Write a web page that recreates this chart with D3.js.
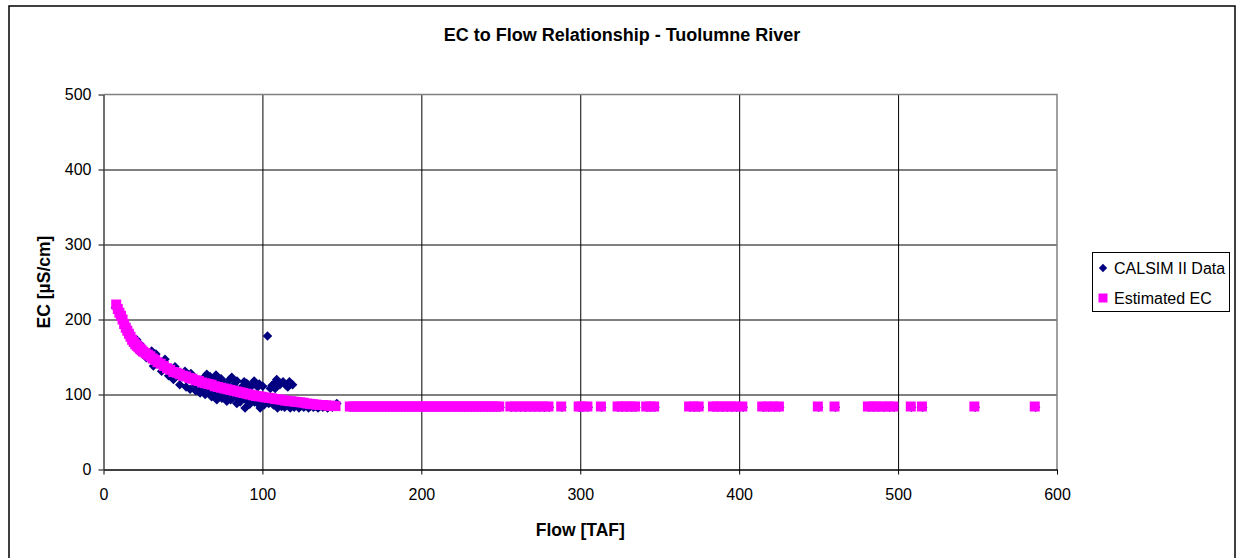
<!DOCTYPE html>
<html><head><meta charset="utf-8">
<script src="https://cdn.jsdelivr.net/npm/d3@7"></script>
<style>
body{margin:0;background:#fff}
svg{display:block}
text{font-family:"Liberation Sans",Arial,sans-serif;fill:#000}
</style>
</head><body>
<svg id="c" width="1238" height="558"></svg>
<script>
const titleText = "EC to Flow Relationship - Tuolumne River";
const xTitle = "Flow [TAF]";
const yTitle = "EC [\u00B5S/cm]";
const seriesNames = ["CALSIM II Data", "Estimated EC"];
const xTicks = [0, 100, 200, 300, 400, 500, 600];
const yTicks = [0, 100, 200, 300, 400, 500];

// CALSIM II Data (flow TAF, EC uS/cm)
const calFlow = [7.5, 9, 10.5, 12, 13.5, 15, 16.5, 18, 19.5, 20.9, 22, 23.5, 25, 27, 29, 30.3, 31.4, 33, 35, 36.6, 38.7, 39, 41, 43, 44, 45, 47, 48, 50, 51.3, 52, 54.5, 55, 57, 58, 60.8, 62, 64, 65, 67, 68, 70.8, 71.3, 74, 74.5, 75, 77.6, 80, 80.7, 83.9, 84, 85, 86, 88.5, 89.1, 91, 92, 94.8, 95, 98, 98.6, 100.2, 101, 103.2, 104, 105, 107, 108, 109, 109.5, 111, 112, 114, 116, 117, 117.5, 120, 123, 126, 129, 132, 135, 138, 141, 144, 146.8,
  58, 61, 63, 66, 69, 72, 73, 76, 79, 81, 82, 85, 87, 90, 93, 96, 97, 99, 102, 106, 110, 113, 115, 118, 121, 124, 127, 130, 133, 136, 139, 142,
  63, 69, 72, 76, 79, 82, 87, 90, 93, 97, 106, 108, 113, 115, 119,
  155.5, 157.5, 159.5, 161.5, 163.5, 165.5, 167.5, 169.5, 171.5, 173.5, 175.5, 177.5, 179.5, 181.5, 183.5, 185.5, 187.5, 189.5, 191.5, 193.5, 195.5, 197.5, 199.5, 201.5, 203.5, 205.5, 207.5, 209.5, 211.5, 213.5, 215.5, 217.5, 219.5, 221.5, 223.5, 225.5, 227.5, 229.5, 231.5, 233.5, 235.5, 237.5, 239.5, 241.5, 243.5, 245.5, 247.5, 249.5, 256.5, 259.5, 262.5, 265.5, 268.5, 271.5, 274.5, 277.5, 280.5, 288.5, 299.5, 301.5, 305, 313.5, 324, 326.5, 329.5, 332.5, 335, 342, 344.5, 347, 369, 372, 375, 384, 386.5, 389.5, 392.5, 395.5, 398.5, 402.5, 415, 418.5, 422, 425.5, 450, 460.5, 481.5, 484.5, 487.5, 491, 494.5, 497.5, 508.5, 515.5, 548.5, 586.5];
const calEC = [216, 212, 206, 198, 192, 186, 179, 175, 170, 173, 158, 166, 157, 149, 150, 158, 138, 154, 142, 131, 147, 137, 125, 131, 120, 137, 127, 113, 124, 131, 110, 107, 128, 120, 105, 102, 116, 100, 127, 124, 97, 126, 93, 121, 95, 108, 91, 93, 123, 88, 118, 103, 90, 117, 82, 113, 87, 118, 90, 114, 82, 111, 86, 178, 88, 108, 86, 108, 120, 82, 113, 84, 83, 110, 117, 82, 83, 82, 83, 82, 83, 82, 83, 82, 83, 88,
  112, 108, 106, 104, 101, 99, 104, 100, 97, 95, 100, 94, 96, 92, 94, 92, 88, 93, 90, 92, 89, 88, 86, 87, 86, 85, 85, 84, 84, 84, 84, 84,
  122, 118, 120, 115, 119, 113, 110, 115, 111, 110, 112, 116, 117, 112, 113,
  83, 83, 83, 83, 83, 83, 83, 83, 83, 83, 83, 83, 83, 83, 83, 83, 83, 83, 83, 83, 83, 83, 83, 83, 83, 83, 83, 83, 83, 83, 83, 83, 83, 83, 83, 83, 83, 83, 83, 83, 83, 83, 83, 83, 83, 83, 83, 83, 83, 83, 83, 83, 83, 83, 83, 83, 83, 83, 83, 83, 83, 83, 83, 83, 83, 83, 83, 83, 83, 83, 83, 83, 83, 83, 83, 83, 83, 83, 83, 83, 83, 83, 83, 83, 83, 83, 83, 83, 83, 83, 83, 83, 83, 83, 83, 83];

// Estimated EC (flow TAF, EC uS/cm)
const estFlow = [8, 9, 10, 11, 12, 13, 14, 15, 16, 17, 18, 19, 20, 21, 22, 23, 24, 25, 26.5, 28, 29.5, 31, 32.5, 34, 36, 38, 40, 42, 44, 46, 48, 50, 52, 54, 56, 58, 60, 62, 64, 66, 68, 70, 72, 74, 76, 78, 80, 82, 84, 86, 88, 90, 92, 94, 96, 98, 100, 102, 104, 106, 108, 110, 112, 114, 116, 118, 120, 122, 124, 126, 128, 130, 132, 134, 136, 138, 140, 142, 144, 146,
  155, 157, 159, 161, 163, 165, 167, 169, 171, 173, 175, 177, 179, 181, 183, 185, 187, 189, 191, 193, 195, 197, 199, 201, 203, 205, 207, 209, 211, 213, 215, 217, 219, 221, 223, 225, 227, 229, 231, 233, 235, 237, 239, 241, 243, 245, 247, 249, 256, 259, 262, 265, 268, 271, 274, 277, 280, 288, 299, 301, 304.5, 313, 323.5, 326, 329, 332, 334.5, 341.5, 344, 346.5, 368.5, 371.5, 374.5, 383.5, 386, 389, 392, 395, 398, 402, 414.5, 418, 421.5, 425, 449.5, 460, 481, 484, 487, 490.5, 494, 497, 508, 515, 548, 586];
const estEC = [220, 214, 209, 205, 200, 194, 189, 185, 181, 177, 173, 170, 167, 165, 163, 161, 159, 157, 155, 153, 151, 148, 146, 143, 141, 138, 135, 133, 130, 129, 127, 125, 124, 122, 121, 119, 118, 116, 115, 114, 113, 111, 110, 109, 108, 107, 106, 105, 104, 103, 102, 101, 100, 99, 98, 97.5, 97, 96, 95.5, 95, 94, 93.5, 93, 92, 91.5, 91, 90.5, 90, 89.5, 89, 88, 87.5, 87, 86.5, 86, 86, 85.5, 85, 85, 84.5,
  84, 84, 84, 84, 84, 84, 84, 84, 84, 84, 84, 84, 84, 84, 84, 84, 84, 84, 84, 84, 84, 84, 84, 84, 84, 84, 84, 84, 84, 84, 84, 84, 84, 84, 84, 84, 84, 84, 84, 84, 84, 84, 84, 84, 84, 84, 84, 84, 84, 84, 84, 84, 84, 84, 84, 84, 84, 84, 84, 84, 84, 84, 84, 84, 84, 84, 84, 84, 84, 84, 84, 84, 84, 84, 84, 84, 84, 84, 84, 84, 84, 84, 84, 84, 84, 84, 84, 84, 84, 84, 84, 84, 84, 84, 84, 84];

const svg = d3.select("#c");
const L = 103.5, R = 1057, T = 94.5, B = 469.5;
const x = d3.scaleLinear().domain([0, 600]).range([L, R]);
const y = d3.scaleLinear().domain([0, 500]).range([B, T]);

// outer chart border
svg.append("rect").attr("x", 9).attr("y", 6).attr("width", 1226).attr("height", 570)
  .attr("fill", "#fff").attr("stroke", "#000").attr("stroke-width", 1.5);

// title
svg.append("text").attr("x", 622).attr("y", 41).attr("text-anchor", "middle")
  .attr("font-size", 18).attr("font-weight", "bold").text(titleText);

// gridlines
const gx = svg.append("g").attr("transform", `translate(0,${B})`)
  .call(d3.axisBottom(x).tickValues(xTicks.slice(1, -1)).tickSize(-(B - T)).tickFormat(""));
gx.select(".domain").remove();
gx.selectAll("line").attr("stroke", "#000").attr("stroke-width", 1);
const gy = svg.append("g").attr("transform", `translate(${L},0)`)
  .call(d3.axisLeft(y).tickValues(yTicks.slice(1, -1)).tickSize(-(R - L)).tickFormat(""));
gy.select(".domain").remove();
gy.selectAll("line").attr("stroke", "#000").attr("stroke-width", 1);

// plot border (top and right gray)
svg.append("path").attr("d", `M${L},${T}H${R}V${B}`).attr("fill", "none")
  .attr("stroke", "#808080").attr("stroke-width", 1.5);

// axes
const ax = svg.append("g").attr("transform", `translate(0,${B})`)
  .call(d3.axisBottom(x).tickValues(xTicks).tickSize(5).tickPadding(14).tickSizeOuter(0));
ax.select(".domain").attr("stroke", "#000").attr("stroke-width", 1.5);
ax.selectAll("line").attr("stroke", "#000");
ax.selectAll("text").attr("font-size", 16).attr("font-family", "Liberation Sans, Arial, sans-serif").attr("fill", "#000");

const ay = svg.append("g").attr("transform", `translate(${L},0)`)
  .call(d3.axisLeft(y).tickValues(yTicks).tickSize(5).tickPadding(7).tickSizeOuter(0));
ay.select(".domain").attr("stroke", "#404040").attr("stroke-width", 1.5);
ay.selectAll("line").attr("stroke", "#000");
ay.selectAll("text").attr("font-size", 16).attr("font-family", "Liberation Sans, Arial, sans-serif").attr("fill", "#000");

// axis titles
svg.append("text").attr("x", (L + R) / 2).attr("y", 536).attr("text-anchor", "middle")
  .attr("font-size", 17.5).attr("font-weight", "bold").text(xTitle);
svg.append("text").attr("transform", `translate(50,${(T + B) / 2}) rotate(-90)`)
  .attr("text-anchor", "middle").attr("font-size", 17.5).attr("font-weight", "bold").text(yTitle);

// markers
const diamond = d3.symbol().type(d3.symbolDiamond2).size(58);
const cal = d3.zip(calFlow, calEC);
const est = d3.zip(estFlow, estEC);
svg.append("g").selectAll("path").data(cal).join("path")
  .attr("d", diamond).attr("transform", d => `translate(${x(d[0])},${y(d[1])})`)
  .attr("fill", "#000080");
svg.append("g").selectAll("rect").data(est).join("rect")
  .attr("x", d => x(d[0]) - 5).attr("y", d => y(d[1]) - 5)
  .attr("width", 10).attr("height", 10).attr("fill", "#FF00FF");

// legend
const lg = svg.append("g");
lg.append("rect").attr("x", 1092.5).attr("y", 252.5).attr("width", 137).attr("height", 59)
  .attr("fill", "#fff").attr("stroke", "#000").attr("stroke-width", 1);
lg.append("path").attr("d", d3.symbol().type(d3.symbolDiamond2).size(44))
  .attr("transform", "translate(1103,268)").attr("fill", "#000080");
lg.append("rect").attr("x", 1098.5).attr("y", 293.5).attr("width", 9).attr("height", 9).attr("fill", "#FF00FF");
lg.append("text").attr("x", 1114).attr("y", 274).attr("font-size", 16).text(seriesNames[0]);
lg.append("text").attr("x", 1114).attr("y", 304).attr("font-size", 16).text(seriesNames[1]);
</script>
</body></html>
